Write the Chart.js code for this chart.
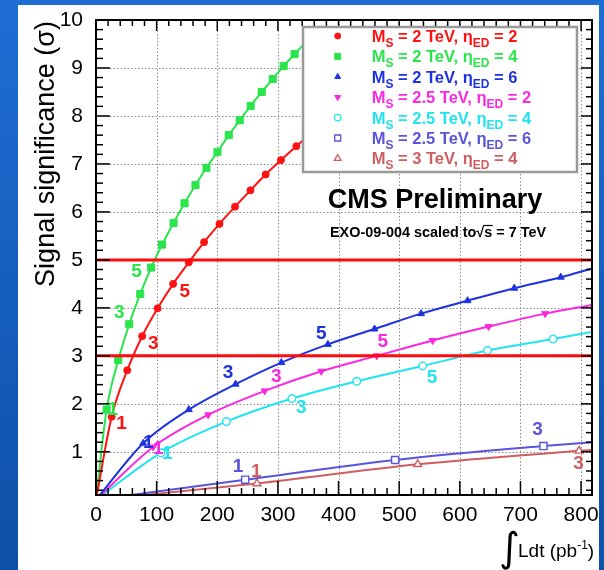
<!DOCTYPE html>
<html><head><meta charset="utf-8">
<script src="https://cdn.jsdelivr.net/npm/chart.js@4.4.0/dist/chart.umd.min.js"></script>
<style>html,body{margin:0;padding:0;background:#1a62c4;overflow:hidden}canvas{display:block}</style>
</head><body>
<canvas id="c" width="604" height="570"></canvas>
<script>
// ---- axes ----
const xTicks = [0, 100, 200, 300, 400, 500, 600, 700, 800];
const yTicks = [1, 2, 3, 4, 5, 6, 7, 8, 9, 10];
const xMin = 0, xMax = 818, yMin = 0.1, yMax = 10;
const sigmaLevels = [3, 5];

// ---- series (integrated luminosity pb^-1, significance sigma) ----
const lumiMs2n2 = [0, 25.8, 51.5, 76.2, 101.6, 127.2, 153.1, 178.3, 203.6, 229.3, 254.7, 279.8, 305, 330.4, 355.8];
const sigMs2n2  = [0, 1.73, 2.70, 3.41, 3.99, 4.50, 4.95, 5.37, 5.75, 6.11, 6.45, 6.78, 7.08, 7.37, 7.65];
const lumiMs2n4 = [0, 17.5, 36.7, 54.8, 73, 91, 109, 127.9, 146, 164.1, 182.2, 200.3, 218.9, 237, 255.1, 273.3, 291.4, 309.5, 327.6, 345.7];
const sigMs2n4  = [0, 1.88, 2.91, 3.66, 4.29, 4.84, 5.32, 5.77, 6.18, 6.56, 6.92, 7.25, 7.60, 7.91, 8.21, 8.50, 8.77, 9.04, 9.29, 9.54];
const lumiMs2n6 = [0, 77.9, 153.1, 230.2, 305.7, 382.4, 459.3, 536.1, 612.8, 689.7, 766.5, 818];
const sigMs2n6  = [0, 1.18, 1.88, 2.41, 2.86, 3.24, 3.56, 3.88, 4.15, 4.41, 4.64, 4.82];
const lumiMs25n2 = [0, 94.3, 184.9, 278.2, 371.5, 463, 555.2, 647.4, 740.7, 818];
const sigMs25n2  = [0, 1.10, 1.77, 2.27, 2.68, 3.00, 3.32, 3.61, 3.88, 4.06];
const lumiMs25n4 = [0, 107, 215.1, 323.1, 430.1, 538.8, 645.8, 753.9, 818];
const sigMs25n4  = [0, 0.98, 1.63, 2.11, 2.47, 2.79, 3.11, 3.35, 3.50];
const lumiMs25n6 = [0, 246, 493.3, 738, 818];
const sigMs25n6  = [0, 0.42, 0.83, 1.12, 1.20];
const lumiMs3n4 = [0, 265.5, 530.5, 796.7, 818];
const sigMs3n4  = [0, 0.34, 0.74, 1.02, 1.04];

// ---- legend text ----
const legendMs  = ['2', '2', '2', '2.5', '2.5', '2.5', '3'];
const legendNed = ['2', '4', '6', '2', '4', '6', '4'];

// ---- sigma labels on curves ----
const markLumiMs2n2 = [42.3, 94.3, 146.5];  const markSigMs2n2 = [1.59, 3.26, 4.34];
const markLumiMs2n4 = [27.5, 38.4, 67];     const markSigMs2n4 = [1.87, 3.89, 4.75];
const markLumiMs2n6 = [86.1, 217.8, 371.5]; const markSigMs2n6 = [1.18, 2.65, 3.47];
const markLumiMs25n2 = [102.6, 297.4, 472.9]; const markSigMs25n2 = [1.07, 2.56, 3.29];
const markLumiMs25n4 = [117.4, 338.6, 554.2]; const markSigMs25n4 = [0.95, 1.91, 2.55];
const markLumiMs25n6 = [234.2, 728.1];      const markSigMs25n6 = [0.68, 1.47];
const markLumiMs3n4 = [264.5, 795.6];       const markSigMs3n4 = [0.58, 0.76];
const markText = ['1', '3', '5'];

const series = [
  {x: lumiMs2n2, y: sigMs2n2, mx: markLumiMs2n2, my: markSigMs2n2, color: '#ff1212', style: 'circle', r: 3.5, fill: true, rot: 0},
  {x: lumiMs2n4, y: sigMs2n4, mx: markLumiMs2n4, my: markSigMs2n4, color: '#2ae44c', style: 'rect', r: 5, fill: true, rot: 0},
  {x: lumiMs2n6, y: sigMs2n6, mx: markLumiMs2n6, my: markSigMs2n6, color: '#1e32e0', style: 'triangle', r: 4, fill: true, rot: 0},
  {x: lumiMs25n2, y: sigMs25n2, mx: markLumiMs25n2, my: markSigMs25n2, color: '#fa28e0', style: 'triangle', r: 4, fill: true, rot: 180},
  {x: lumiMs25n4, y: sigMs25n4, mx: markLumiMs25n4, my: markSigMs25n4, color: '#20e4ee', style: 'circle', r: 3.8, fill: false, rot: 0},
  {x: lumiMs25n6, y: sigMs25n6, mx: markLumiMs25n6, my: markSigMs25n6, color: '#5954d9', style: 'rect', r: 5, fill: false, rot: 0},
  {x: lumiMs3n4, y: sigMs3n4, mx: markLumiMs3n4, my: markSigMs3n4, color: '#cf5e61', style: 'triangle', r: 4.5, fill: false, rot: 0}
];

const FONT = '"Liberation Sans", Arial, Helvetica, sans-serif';

const datasets = [];
sigmaLevels.forEach(s => datasets.push({
  data: [{x: xMin, y: s}, {x: xMax, y: s}],
  showLine: true, borderColor: '#ff0a0a', borderWidth: 3, pointRadius: 0
}));
series.forEach(s => datasets.push({
  data: s.x.map((v, i) => ({x: v, y: s.y[i]})),
  showLine: true,
  borderColor: s.color,
  borderWidth: 2,
  cubicInterpolationMode: 'monotone',
  pointStyle: s.style,
  pointRotation: s.rot,
  pointRadius: c => (c.dataIndex === 0 || c.dataIndex === s.x.length - 1) ? 0 : s.r,
  pointBackgroundColor: s.fill ? s.color : '#ffffff',
  pointBorderColor: s.color,
  pointBorderWidth: s.fill ? 1 : 1.4
}));

function drawParts(ctx, parts, x, y, mainFont, subFont, subDy) {
  for (const p of parts) {
    ctx.font = p.sub ? subFont : mainFont;
    ctx.fillText(p.t, x, y + (p.sub ? subDy : 0));
    x += ctx.measureText(p.t).width;
  }
  return x;
}

const rootStyle = {
  id: 'rootStyle',
  beforeDraw(chart) {
    const ctx = chart.ctx;
    ctx.save();
    const g = ctx.createLinearGradient(0, 0, 0, 570);
    g.addColorStop(0, '#1f6ed4');
    g.addColorStop(1, '#0e50a8');
    ctx.fillStyle = g;
    ctx.fillRect(0, 0, 604, 570);
    ctx.fillStyle = '#ffffff';
    ctx.fillRect(18, 5, 581, 565);
    ctx.restore();
  },
  beforeDatasetsDraw(chart) {
    const ctx = chart.ctx, xs = chart.scales.x, ys = chart.scales.y, a = chart.chartArea;
    ctx.save();
    ctx.strokeStyle = '#8c8c8c';
    ctx.lineWidth = 1;
    ctx.setLineDash([1.5, 2]);
    xTicks.forEach(v => {
      if (v <= xMin) return;
      const px = Math.round(xs.getPixelForValue(v)) + 0.5;
      ctx.beginPath(); ctx.moveTo(px, a.top); ctx.lineTo(px, a.bottom); ctx.stroke();
    });
    yTicks.forEach(v => {
      if (v >= yMax) return;
      const py = Math.round(ys.getPixelForValue(v)) + 0.5;
      ctx.beginPath(); ctx.moveTo(a.left, py); ctx.lineTo(a.right, py); ctx.stroke();
    });
    ctx.restore();
  },
  afterDatasetsDraw(chart) {
    const ctx = chart.ctx, xs = chart.scales.x, ys = chart.scales.y, a = chart.chartArea;
    ctx.save();
    // frame
    ctx.strokeStyle = '#000';
    ctx.lineWidth = 2;
    ctx.strokeRect(a.left, a.top, a.right - a.left, a.bottom - a.top);
    // ticks
    ctx.lineWidth = 1.5;
    const line = (x1, y1, x2, y2) => { ctx.beginPath(); ctx.moveTo(x1, y1); ctx.lineTo(x2, y2); ctx.stroke(); };
    const xStep = (xTicks[1] - xTicks[0]) / 5;
    for (let k = 0; k * xStep <= xMax; k++) {
      const v = xTicks[0] + k * xStep;
      const px = xs.getPixelForValue(v);
      const major = k % 5 === 0;
      line(px, a.bottom, px, a.bottom - (major ? 14 : 7));
      line(px, a.top, px, a.top + (major ? 11 : 6));
    }
    const yStep = (yTicks[1] - yTicks[0]) / 5;
    for (let k = 1; k * yStep <= yMax + 1e-9; k++) {
      const v = k * yStep;
      if (v < yMin) continue;
      const py = ys.getPixelForValue(v);
      const major = k % 5 === 0;
      line(a.left, py, a.left + (major ? 14 : 7), py);
      line(a.right, py, a.right - (major ? 11 : 6), py);
    }
    // sigma labels
    ctx.font = 'bold 19px ' + FONT;
    ctx.textAlign = 'center';
    ctx.textBaseline = 'middle';
    series.forEach(s => {
      ctx.fillStyle = s.color;
      s.mx.forEach((v, i) => ctx.fillText(markText[i], xs.getPixelForValue(v), ys.getPixelForValue(s.my[i])));
    });
    // legend box
    const lx0 = 303, ly0 = 27, lx1 = 577, ly1 = 172;
    ctx.fillStyle = '#ffffff';
    ctx.fillRect(lx0, ly0, lx1 - lx0, ly1 - ly0);
    ctx.strokeStyle = '#9a9a9a';
    ctx.lineWidth = 2.5;
    ctx.strokeRect(lx0, ly0, lx1 - lx0, ly1 - ly0);
    ctx.textAlign = 'left';
    ctx.textBaseline = 'alphabetic';
    series.forEach((s, i) => {
      const cy = 36 + i * 20.4;
      ctx.fillStyle = s.fill ? s.color : '#ffffff';
      ctx.strokeStyle = s.color;
      ctx.lineWidth = s.fill ? 1 : 1.3;
      Chart.helpers.drawPoint(ctx, {pointStyle: s.style, radius: s.r * 0.85, rotation: s.rot, borderWidth: ctx.lineWidth}, 337.7, cy);
      ctx.fillStyle = s.color;
      drawParts(ctx, [
        {t: 'M'}, {t: 'S', sub: true}, {t: ' = ' + legendMs[i] + ' TeV, η'}, {t: 'ED', sub: true}, {t: ' = ' + legendNed[i]}
      ], 371.7, cy + 6, 'bold 16.5px ' + FONT, 'bold 12px ' + FONT, 5);
    });
    // CMS Preliminary
    ctx.fillStyle = '#000';
    ctx.textAlign = 'center';
    ctx.font = 'bold 27px ' + FONT;
    ctx.fillText('CMS Preliminary', 435, 208);
    ctx.textAlign = 'left';
    let ex = drawParts(ctx, [{t: 'EXO-09-004 scaled to'}], 330, 236.5, 'bold 14.4px ' + FONT, '', 0);
    ctx.font = 'bold 14.4px ' + FONT;
    ctx.fillText('√', ex, 236.5);
    ex += ctx.measureText('√').width;
    const sw = ctx.measureText('s').width;
    ctx.fillText('s', ex, 236.5);
    ctx.lineWidth = 1.2; ctx.strokeStyle = '#000';
    line(ex - 1, 225.5, ex + sw + 0.5, 225.5);
    ex += sw;
    ctx.fillText(' = 7 TeV', ex, 236.5);
    // y title
    ctx.save();
    ctx.translate(54, 154);
    ctx.rotate(-Math.PI / 2);
    ctx.textAlign = 'center';
    ctx.font = '27px ' + FONT;
    ctx.fillText('Signal significance (σ)', 0, 0);
    ctx.restore();
    // x title
    ctx.textAlign = 'left';
    ctx.font = '40px "DejaVu Sans"';
    ctx.fillText('∫', 499, 561);
    let tx = drawParts(ctx, [{t: 'Ldt (pb'}], 518, 557, '19px ' + FONT, '', 0);
    ctx.font = '12px ' + FONT;
    ctx.fillText('-1', tx, 549);
    tx += ctx.measureText('-1').width;
    ctx.font = '19px ' + FONT;
    ctx.fillText(')', tx, 557);
    ctx.restore();
  }
};

new Chart(document.getElementById('c'), {
  type: 'scatter',
  data: {datasets},
  options: {
    responsive: false,
    animation: false,
    events: [],
    layout: {padding: {left: 0, top: 20, right: 12, bottom: 0}},
    plugins: {legend: {display: false}, tooltip: {enabled: false}},
    scales: {
      x: {
        type: 'linear', min: xMin, max: xMax,
        afterBuildTicks: sc => { sc.ticks = xTicks.map(v => ({value: v})); },
        afterFit: sc => { sc.height = 75; },
        grid: {display: false}, border: {display: false},
        ticks: {font: {size: 21, family: FONT}, color: '#000', padding: 0, maxRotation: 0, autoSkip: false}
      },
      y: {
        type: 'linear', min: yMin, max: yMax,
        afterBuildTicks: sc => { sc.ticks = yTicks.map(v => ({value: v})); },
        afterFit: sc => { sc.width = 96; },
        grid: {display: false}, border: {display: false},
        ticks: {font: {size: 21, family: FONT}, color: '#000', padding: 5, autoSkip: false}
      }
    }
  },
  plugins: [rootStyle]
});
</script>
</body></html>
